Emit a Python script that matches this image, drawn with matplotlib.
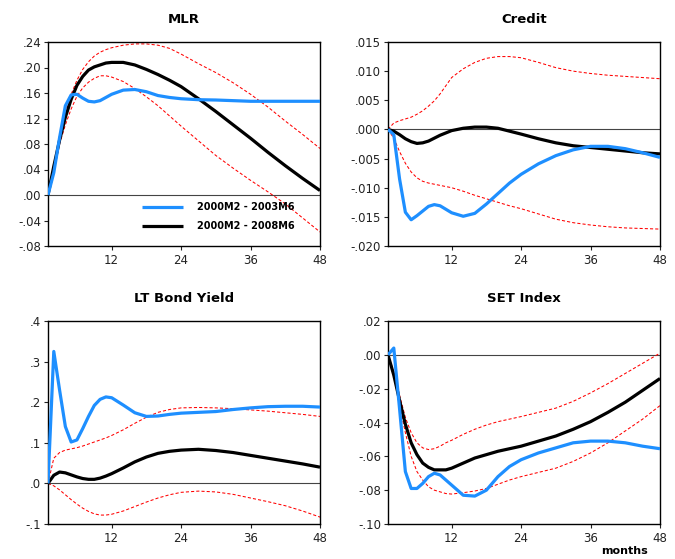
import matplotlib
matplotlib.use("Agg")
import matplotlib.pyplot as plt
from matplotlib.ticker import FuncFormatter

months = [1, 2, 3, 4, 5, 6, 7, 8, 9, 10, 11, 12, 14, 16, 18, 20, 22, 24, 27, 30, 33, 36, 39, 42, 45, 48]

# MLR
mlr_blue = [0, 0.035, 0.09, 0.14, 0.157, 0.158, 0.152, 0.147, 0.146, 0.148, 0.153, 0.158, 0.1645, 0.1655, 0.162, 0.156,
            0.153, 0.151, 0.1495, 0.149, 0.148, 0.147, 0.147, 0.147, 0.147, 0.147]
mlr_black = [0, 0.045, 0.086, 0.122, 0.150, 0.172, 0.186, 0.196, 0.201, 0.204, 0.207, 0.208, 0.208, 0.204, 0.197, 0.189,
             0.180, 0.170, 0.151, 0.131, 0.110, 0.089, 0.067, 0.046, 0.026, 0.007]
mlr_upper = [0, 0.04, 0.09, 0.13, 0.158, 0.18, 0.197, 0.209, 0.218, 0.224, 0.228, 0.231, 0.235, 0.237, 0.237, 0.235,
             0.230, 0.221, 0.206, 0.192, 0.176, 0.158, 0.138, 0.116, 0.095, 0.073]
mlr_lower = [0, 0.04, 0.08, 0.11, 0.135, 0.155, 0.168, 0.177, 0.183, 0.187, 0.187, 0.185, 0.178, 0.167, 0.154, 0.140,
             0.124, 0.108, 0.085, 0.062, 0.042, 0.023, 0.005, -0.014, -0.036, -0.058]

# Credit
credit_blue = [0, -0.0009, -0.0085, -0.0142, -0.0155, -0.0148, -0.0140, -0.0132, -0.0129, -0.0131, -0.0137, -0.0143,
               -0.0149, -0.0144, -0.0128, -0.0110, -0.0092, -0.0077, -0.0059, -0.0045, -0.0035, -0.0029, -0.0029,
               -0.0033, -0.0040, -0.0048]
credit_black = [0, -0.0003, -0.0009, -0.0016, -0.0021, -0.0024, -0.0023, -0.0020, -0.0015, -0.0010, -0.0006, -0.0002,
                0.0002, 0.0004, 0.0004, 0.0002, -0.0003, -0.0008, -0.0016, -0.0023, -0.0028, -0.0031, -0.0034,
                -0.0037, -0.0040, -0.0042]
credit_upper = [0, 0.0011, 0.0015, 0.0018, 0.0021, 0.0026, 0.0032, 0.0040, 0.0049, 0.0061, 0.0075, 0.0089, 0.0104,
                0.0115, 0.0122, 0.0125, 0.0125, 0.0123, 0.0115, 0.0106, 0.0100, 0.0096, 0.0093, 0.0091, 0.0089, 0.0087]
credit_lower = [0, -0.0015, -0.0038, -0.0058, -0.0073, -0.0083, -0.0089, -0.0092, -0.0094, -0.0096, -0.0098, -0.0100,
                -0.0106, -0.0113, -0.0119, -0.0125, -0.0131, -0.0136, -0.0145, -0.0154, -0.0160, -0.0164, -0.0167,
                -0.0169, -0.0170, -0.0171]

# LT Bond Yield
bond_blue = [0, 0.325, 0.23, 0.14, 0.102, 0.107, 0.135, 0.165, 0.192, 0.207, 0.213, 0.211, 0.193, 0.174, 0.165, 0.166,
             0.170, 0.173, 0.175, 0.177, 0.182, 0.186, 0.189, 0.190, 0.190, 0.188]
bond_black = [0, 0.020, 0.028, 0.026, 0.021, 0.016, 0.012, 0.010, 0.010, 0.013, 0.018, 0.024, 0.038, 0.053, 0.065,
              0.074, 0.079, 0.082, 0.084, 0.081, 0.076, 0.069, 0.062, 0.055, 0.048, 0.040]
bond_upper = [0, 0.062, 0.076, 0.082, 0.085, 0.088, 0.092, 0.097, 0.102, 0.107, 0.112, 0.118, 0.132, 0.148, 0.163,
              0.175, 0.182, 0.186, 0.187, 0.186, 0.184, 0.181, 0.178, 0.174, 0.170, 0.165]
bond_lower = [0, -0.006, -0.016, -0.028, -0.040, -0.051, -0.061, -0.069, -0.075, -0.078, -0.078, -0.076, -0.068,
              -0.057, -0.046, -0.036, -0.028, -0.022, -0.019, -0.021, -0.027, -0.036, -0.045, -0.055, -0.068, -0.083]

# SET Index
set_blue = [0, 0.004, -0.032, -0.069, -0.079, -0.079, -0.076, -0.072, -0.070, -0.071, -0.074, -0.077, -0.083, -0.0835,
            -0.080, -0.072, -0.066, -0.062, -0.058, -0.055, -0.052, -0.051, -0.051, -0.052, -0.054, -0.0555]
set_black = [0, -0.012, -0.027, -0.041, -0.052, -0.059, -0.064, -0.0665, -0.068, -0.068, -0.068, -0.067, -0.064,
             -0.061, -0.059, -0.057, -0.0555, -0.054, -0.051, -0.048, -0.044, -0.0395, -0.034, -0.028, -0.021, -0.014]
set_upper = [0, -0.010, -0.024, -0.037, -0.046, -0.052, -0.055, -0.056, -0.0555, -0.054, -0.052, -0.0505, -0.047,
             -0.044, -0.0415, -0.0395, -0.038, -0.0365, -0.034, -0.0315, -0.0275, -0.0225, -0.017, -0.011, -0.005, 0.001]
set_lower = [0, -0.013, -0.030, -0.046, -0.060, -0.069, -0.074, -0.078, -0.080, -0.081, -0.082, -0.0823, -0.0815,
             -0.0805, -0.079, -0.0765, -0.074, -0.072, -0.0695, -0.067, -0.063, -0.058, -0.052, -0.045, -0.038, -0.030]

titles = ["MLR", "Credit", "LT Bond Yield", "SET Index"]
legend_labels = ["2000M2 - 2003M6", "2000M2 - 2008M6"]
x_ticks = [12, 24, 36, 48]
y_ticks = [
    [-0.08, -0.04, 0.0, 0.04, 0.08, 0.12, 0.16, 0.20, 0.24],
    [-0.020, -0.015, -0.010, -0.005, 0.000, 0.005, 0.010, 0.015],
    [-0.1, 0.0, 0.1, 0.2, 0.3, 0.4],
    [-0.10, -0.08, -0.06, -0.04, -0.02, 0.00, 0.02],
]
y_decimals = [2, 3, 1, 2]

panels = [
    (mlr_blue, mlr_black, mlr_upper, mlr_lower),
    (credit_blue, credit_black, credit_upper, credit_lower),
    (bond_blue, bond_black, bond_upper, bond_lower),
    (set_blue, set_black, set_upper, set_lower),
]

W, H = 675, 559
fig = plt.figure(figsize=(W / 100, H / 100), dpi=100)
boxes = [(48, 42, 320, 246), (388, 42, 660, 246), (48, 321, 320, 524), (388, 321, 660, 524)]

BLUE = "#1E8FFF"

def make_fmt(d):
    def f(v, pos):
        s = f"{v:.{d}f}"
        if s.startswith("-0"):
            s = "-" + s[2:]
        elif s.startswith("0"):
            s = s[1:]
        return s
    return FuncFormatter(f)

for i, (box, data) in enumerate(zip(boxes, panels)):
    l, t, r, b = box
    ax = fig.add_axes([l / W, 1 - b / H, (r - l) / W, (b - t) / H])
    blue, black, upper, lower = data
    ax.axhline(0, color="#444444", lw=0.8, zorder=1)
    ax.plot(months, upper, color="red", lw=0.75, ls=(0, (3, 2)), zorder=2)
    ax.plot(months, lower, color="red", lw=0.75, ls=(0, (3, 2)), zorder=2)
    ln_b, = ax.plot(months, black, color="black", lw=2.3, zorder=3, solid_capstyle="butt")
    ln_bl, = ax.plot(months, blue, color=BLUE, lw=2.3, zorder=4, solid_capstyle="butt")
    ax.set_xlim(1, 48)
    ax.set_ylim(y_ticks[i][0], y_ticks[i][-1])
    ax.set_xticks(x_ticks)
    ax.set_yticks(y_ticks[i])
    ax.yaxis.set_major_formatter(make_fmt(y_decimals[i]))
    ax.tick_params(direction="out", length=3, width=0.8, labelsize=8.5, pad=2, colors="#222222")
    ax.tick_params(axis="x", pad=3)
    for sp in ax.spines.values():
        sp.set_linewidth(1.0)
    ax.set_title(titles[i], fontsize=9.5, fontweight="bold", pad=14)
    if i == 0:
        ax.legend([ln_bl, ln_b], legend_labels, loc="upper left", bbox_to_anchor=(0.346, 0.215),
                  frameon=False, prop={"weight": "bold", "size": 7}, handlelength=4.2,
                  handletextpad=1.4, labelspacing=0.95, borderaxespad=0.0, borderpad=0.0)

fig.text(625 / W, 1 - 551 / H, "months", ha="center", va="center", fontsize=8, fontweight="bold")

fig.savefig("out.png", dpi=100)
